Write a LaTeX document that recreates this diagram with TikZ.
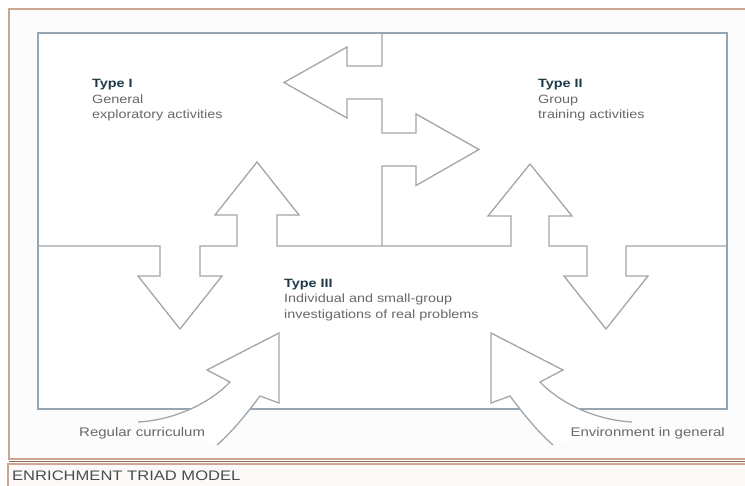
\documentclass[tikz,border=0pt]{standalone}
\usepackage{fontspec}
\newfontfamily\triadfont[FakeStretch=1.2]{Liberation Sans}
\definecolor{linegray}{RGB}{160,166,172}
\definecolor{boxgray}{RGB}{150,165,178}
\definecolor{framebrown}{RGB}{205,165,145}
\definecolor{darkbrown}{RGB}{140,105,85}
\definecolor{typeblue}{RGB}{30,58,75}
\definecolor{textgray}{RGB}{105,105,105}
\usetikzlibrary{positioning}

\begin{document}
\begin{tikzpicture}[x=1pt, y=-1pt,
    outline/.style={draw=linegray, line width=1.3pt, line join=miter},
    label/.style={inner sep=0pt, align=left, text=textgray,
      font={\triadfont\fontsize{12.5}{15}\selectfont}},
    block/.style={label, anchor=north west,
      font={\triadfont\fontsize{12}{15.3}\selectfont}}]
    \useasboundingbox (0,0) rectangle (745,486);
    \clip (0,0) rectangle (745,486);
    \fill[white] (0,0) rectangle (745,486);
    \fill[white!97!framebrown] (9,9) rectangle (760,459);
    % frame and caption box
    \draw[framebrown, line width=1.6pt] (9,9) rectangle (760,459);
    \draw[darkbrown, line width=0.8pt] (9,461.5) -- (760,461.5);
    \fill[white!95!framebrown] (8,464) rectangle (760,500);
    \draw[framebrown, line width=1.2pt] (8,464) rectangle (760,500);
    \fill[white] (38,33) rectangle (727,409);
    \draw[draw=boxgray, line width=1.3pt] (38,33) rectangle (727,409);
    % middle line with the four upright arrows
    \draw[outline] (38,246) -- (160,246) -- (160,276) -- (138,276) -- (180,329)
      -- (222,276) -- (200,276) -- (200,246) -- (237,246) -- (237,215)
      -- (215,215) -- (257,162) -- (299,215) -- (277,215) -- (277,246)
      -- (511,246) -- (511,216) -- (488,216) -- (530,164) -- (572,216)
      -- (549,216) -- (549,246) -- (587,246) -- (587,276) -- (564,276)
      -- (606,329) -- (648,276) -- (626,276) -- (626,246) -- (727,246);
    % line between Type I and Type II
    \draw[outline] (382,33) -- (382,66) -- (347,66) -- (347,47) -- (284,82.5)
      -- (347,118) -- (347,99) -- (382,99) -- (382,133) -- (416,133)
      -- (416,114) -- (479,149.5) -- (416,185.5) -- (416,166) -- (382,166)
      -- (382,246);
    % curved arrows from below
    \fill[white] (138,422) .. controls (175,420) and (210,403) .. (230,382)
      -- (207,370) -- (279,333) -- (279,403) -- (260,396)
      .. controls (248,412) and (234,430) .. (217,445) -- cycle;
    \draw[outline] (138,422) .. controls (175,420) and (210,403) .. (230,382)
      -- (207,370) -- (279,333) -- (279,403) -- (260,396)
      .. controls (248,412) and (234,430) .. (217,445);
    \fill[white] (632,422) .. controls (595,420) and (560,403) .. (540,382)
      -- (563,370) -- (491,333) -- (491,403) -- (510,396)
      .. controls (522,412) and (536,430) .. (553,445) -- cycle;
    \draw[outline] (632,422) .. controls (595,420) and (560,403) .. (540,382)
      -- (563,370) -- (491,333) -- (491,403) -- (510,396)
      .. controls (522,412) and (536,430) .. (553,445);
    % texts
    \node[block] (typeI) at (92,79.5)
      {\textcolor{typeblue}{\bfseries Type I}\\General\\exploratory activities};
    \node[block] (typeII) at (538,79.5)
      {\textcolor{typeblue}{\bfseries Type II}\\Group\\training activities};
    \node[block] (typeIII) at (284,279)
      {\textcolor{typeblue}{\bfseries Type III}\\Individual and small-group\\investigations of real problems};
    \node[label, anchor=base west] (regular) at (79,437) {Regular curriculum};
    \node[label, anchor=base east] (environment) at (725,437) {Environment in general};
    \node[label, anchor=base west, text=black!70, font={\triadfont\fontsize{13.8}{15}\selectfont}] (caption) at (12,481) {ENRICHMENT TRIAD MODEL};
\end{tikzpicture}
\end{document}
